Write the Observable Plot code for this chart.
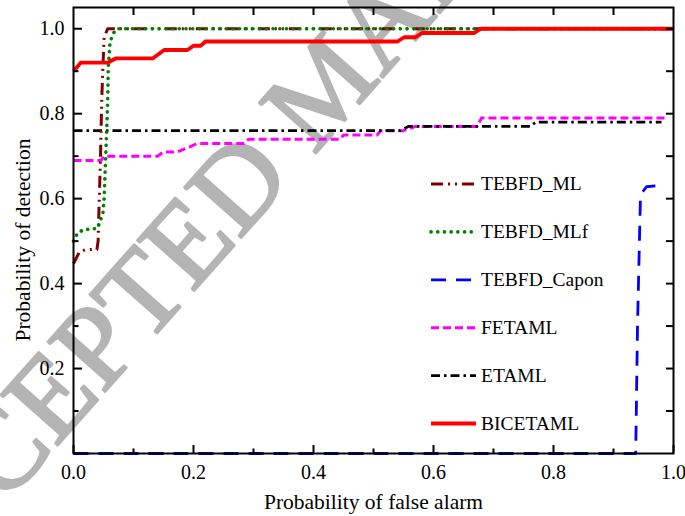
<!DOCTYPE html>
<html><head><meta charset="utf-8">
<script src="https://cdn.jsdelivr.net/npm/d3@7"></script>
<script src="https://cdn.jsdelivr.net/npm/@observablehq/plot@0.6"></script>
<style>
html,body{margin:0;padding:0;background:#fff;}
#chart{width:685px;height:516px;overflow:hidden;}
</style>
</head><body><div id="chart"></div>
<script>
// ---- data ----
const seriesNames = ["TEBFD_ML", "TEBFD_MLf", "TEBFD_Capon", "FETAML", "ETAML", "BICETAML"];

const mlX = [0, 0.01, 0.02, 0.039, 0.041, 0.043, 0.045, 0.047, 0.049, 0.051, 0.057, 1.0];
const mlY = [0.447, 0.475, 0.48, 0.48, 0.50, 0.60, 0.70, 0.83, 0.91, 0.98, 1.0, 1.0];

const mlfX = [0, 0.007, 0.018, 0.04, 0.045, 0.049, 0.051, 0.053, 0.055, 0.057, 0.058, 0.061, 0.068, 0.073, 1.0];
const mlfY = [0.50, 0.52, 0.527, 0.53, 0.55, 0.565, 0.60, 0.675, 0.75, 0.83, 0.91, 0.97, 0.993, 1.0, 1.0];

const caponX = [0, 0.937, 0.94, 0.945, 0.955, 0.97, 0.98];
const caponY = [0, 0, 0.30, 0.61, 0.628, 0.63, 0.64];

const fetamlX = [0, 0.046, 0.051, 0.14, 0.15, 0.173, 0.19, 0.207, 0.284, 0.292, 0.445, 0.45, 0.506, 0.512, 0.55, 0.57, 0.673, 0.68, 0.99];
const fetamlY = [0.69, 0.69, 0.70, 0.70, 0.71, 0.71, 0.72, 0.73, 0.73, 0.74, 0.74, 0.75, 0.75, 0.76, 0.76, 0.77, 0.77, 0.79, 0.79];

const etamlX = [0, 0.545, 0.558, 0.762, 0.77, 0.98];
const etamlY = [0.76, 0.76, 0.77, 0.77, 0.78, 0.78];

const bicX = [0, 0.012, 0.057, 0.07, 0.132, 0.151, 0.19, 0.2, 0.212, 0.22, 0.54, 0.551, 0.57, 0.581, 0.668, 0.679, 1.0];
const bicY = [0.90, 0.92, 0.92, 0.93, 0.93, 0.95, 0.95, 0.96, 0.96, 0.97, 0.97, 0.98, 0.98, 0.99, 0.99, 1.0, 1.0];

const xTickLabels = [0, 0.2, 0.4, 0.6, 0.8, 1.0];
const xMinorTicks = [0.1, 0.3, 0.5, 0.7, 0.9];
const yTickLabels = [0.2, 0.4, 0.6, 0.8, 1.0];
const yMinorTicks = [0.1, 0.3, 0.5, 0.7, 0.9];
const topTicks = [0.1, 0.2, 0.3, 0.4, 0.5, 0.6, 0.7, 0.8, 0.9];
const rightTicks = [0.1, 0.2, 0.3, 0.4, 0.5, 0.6, 0.7, 0.8, 0.9, 1.0];

const xTitle = "Probability of false alarm";
const yTitle = "Probability of detection";
const watermark = "ACCEPTED MANUSCRIPT";

// ---- styles ----
const styles = {
  "TEBFD_ML":    {stroke: "#800000", width: 3,   dash: "12,5,2,5,2,5", cap: "butt"},
  "TEBFD_MLf":   {stroke: "#008000", width: 3.6, dash: "0.1,6.6",      cap: "round"},
  "TEBFD_Capon": {stroke: "#0000ff", width: 2.8, dash: "15,10",        cap: "butt"},
  "FETAML":      {stroke: "#ff00ff", width: 3,   dash: "8,4",          cap: "butt"},
  "ETAML":       {stroke: "#000000", width: 2.8, dash: "9,4,2.5,4",    cap: "butt"},
  "BICETAML":    {stroke: "#ff0000", width: 3.8, dash: null,           cap: "butt"}
};

const table = (name, xs, ys) => xs.map((x, i) => ({series: name, x, y: ys[i]}));
const seriesData = {
  "TEBFD_ML": table("TEBFD_ML", mlX, mlY),
  "TEBFD_MLf": table("TEBFD_MLf", mlfX, mlfY),
  "TEBFD_Capon": table("TEBFD_Capon", caponX, caponY),
  "FETAML": table("FETAML", fetamlX, fetamlY),
  "ETAML": table("ETAML", etamlX, etamlY),
  "BICETAML": table("BICETAML", bicX, bicY)
};
const drawOrder = ["TEBFD_Capon", "FETAML", "ETAML", "TEBFD_ML", "TEBFD_MLf", "BICETAML"];

const W = 685, H = 516, mL = 73, mR = 12, mT = 7, mB = 63;
const innerW = W - mL - mR, innerH = H - mT - mB;
const font = "'Liberation Serif', 'Times New Roman', Times, serif";

const lineMarks = drawOrder.map(name => {
  const s = styles[name];
  return Plot.line(seriesData[name], {
    x: "x", y: "y", stroke: s.stroke, strokeWidth: s.width,
    strokeDasharray: s.dash || undefined, strokeLinecap: s.cap, strokeLinejoin: "round"
  });
});

const chart = Plot.plot({
  width: W, height: H,
  marginLeft: mL, marginRight: mR, marginTop: mT, marginBottom: mB,
  style: {fontFamily: font, fontSize: "20px", background: "white", color: "black"},
  x: {domain: [0, 1], axis: null},
  y: {domain: [0, 1.05], axis: null},
  marks: [
    Plot.text([watermark], {frameAnchor: "top-left", dx: 325 - mL, dy: 86 - mT, rotate: -48.5,
      fontSize: 116, fill: "#b4b4b4", stroke: "#b4b4b4", strokeWidth: 2.5, strokeLinejoin: "round",
      textAnchor: "middle", lineAnchor: "middle", fontFamily: font}),
    ...lineMarks,
    Plot.frame({stroke: "black", strokeWidth: 2}),
    Plot.ruleX(xTickLabels, {x: d => d, insetTop: innerH - 8, stroke: "black", strokeWidth: 2}),
    Plot.ruleX(xMinorTicks, {x: d => d, insetTop: innerH - 4.5, stroke: "black", strokeWidth: 2}),
    Plot.ruleX(topTicks, {x: d => d, insetBottom: innerH - 8, stroke: "black", strokeWidth: 2}),
    Plot.ruleY(yTickLabels, {y: d => d, insetRight: innerW - 9, stroke: "black", strokeWidth: 2}),
    Plot.ruleY(yMinorTicks, {y: d => d, insetRight: innerW - 5.5, stroke: "black", strokeWidth: 2}),
    Plot.ruleY(rightTicks, {y: d => d, insetLeft: innerW - 7, stroke: "black", strokeWidth: 2}),
    Plot.axisX(xTickLabels, {tickSize: 0, tickPadding: 11, tickFormat: d3.format(".1f"), fontSize: 20, label: null}),
    Plot.axisY(yTickLabels, {tickSize: 0, tickPadding: 9, tickFormat: d3.format(".1f"), fontSize: 20, label: null}),
    Plot.text([xTitle], {frameAnchor: "bottom", dy: 49, fontSize: 21.5, fill: "black",
      textAnchor: "middle", lineAnchor: "middle"}),
    Plot.text([yTitle], {frameAnchor: "left", dx: -50.5, dy: 9.5, rotate: -90, fontSize: 21.5, fill: "black",
      textAnchor: "middle", lineAnchor: "middle"})
  ]
});

document.getElementById("chart").appendChild(chart);

// ---- legend (inside the plot area, drawn onto the same svg) ----
const svg = d3.select(chart.tagName.toLowerCase() === "svg" ? chart : chart.querySelector("svg"));
const lgX0 = 431, lgX1 = 476, lgTextX = 481, lgY0 = 184, lgStep = 47.9;
const lg = svg.append("g").attr("font-family", font).attr("font-size", 19.5).attr("text-anchor", "start");
seriesNames.forEach((name, i) => {
  const s = styles[name];
  const yy = lgY0 + i * lgStep;
  const ln = lg.append("line").attr("x1", lgX0).attr("x2", lgX1).attr("y1", yy).attr("y2", yy)
    .attr("stroke", s.stroke).attr("stroke-width", s.width).attr("stroke-linecap", s.cap);
  if (s.dash) ln.attr("stroke-dasharray", s.dash);
  lg.append("text").attr("x", lgTextX).attr("y", yy).attr("dy", "0.33em").attr("text-anchor", "start")
    .attr("fill", "black").text(name);
});
</script>
</body></html>
